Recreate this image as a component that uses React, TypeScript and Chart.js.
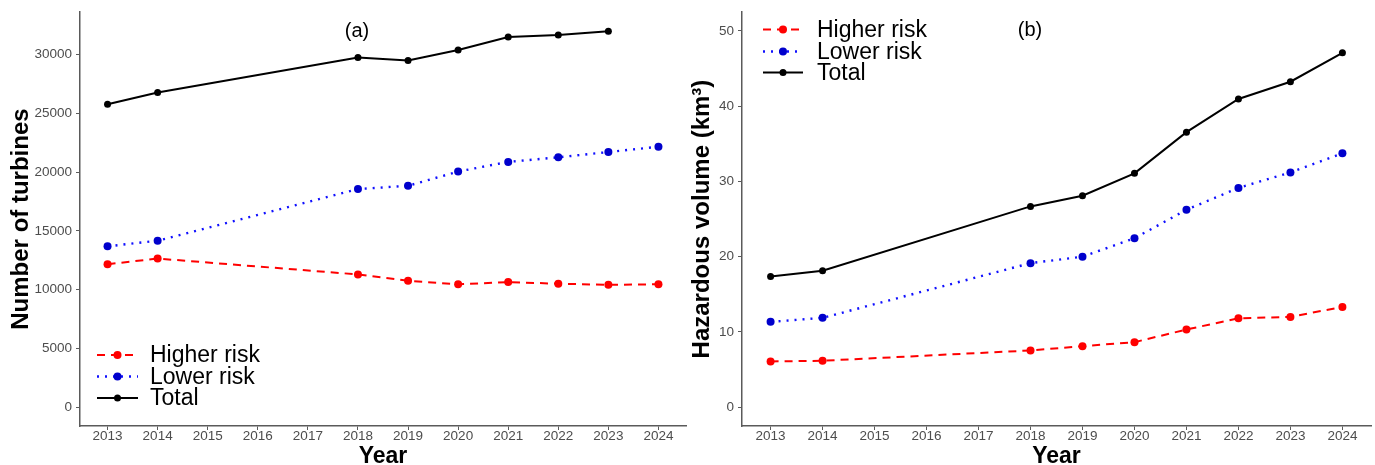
import React, { useEffect, useRef } from "react";
import { Chart, registerables } from "chart.js";

Chart.register(...registerables);

// ---------- data ----------
const years = [2013, 2014, 2018, 2019, 2020, 2021, 2022, 2023, 2024];
const xTickYears = [2013, 2014, 2015, 2016, 2017, 2018, 2019, 2020, 2021, 2022, 2023, 2024];
const seriesLabels = ["Higher risk", "Lower risk", "Total"];

const turbinesHigher = [12160, 12640, 11290, 10750, 10450, 10640, 10500, 10410, 10450];
const turbinesLower = [13680, 14160, 18550, 18830, 20040, 20860, 21250, 21700, 22150];
const turbinesTotal = [25760, 26770, 29730, 29480, 30380, 31480, 31650, 31980, null];
const turbineTicks = [0, 5000, 10000, 15000, 20000, 25000, 30000];

const volumeHigher = [6.08, 6.17, 7.54, 8.11, 8.64, 10.32, 11.81, 12.0, 13.32];
const volumeLower = [11.34, 11.87, 19.14, 20.0, 22.45, 26.23, 29.14, 31.2, 33.73];
const volumeTotal = [17.37, 18.12, 26.68, 28.1, 31.08, 36.55, 40.96, 43.25, 47.09];
const volumeTicks = [0, 10, 20, 30, 40, 50];

// ---------- styles ----------
const FAMILY = "'Liberation Sans', Arial, Helvetica, sans-serif";
const AXIS_COLOR = "#5a5a5a";
const TICK_TEXT = "#4d4d4d";

const seriesStyles = [
  { line: "#ff0000", point: "#ff0000", dash: [8, 6], width: 2, r: 4, order: 2 },
  { line: "#1010ff", point: "#0000cc", dash: [2, 6], width: 2.4, r: 4, order: 1 },
  { line: "#000000", point: "#000000", dash: [] as number[], width: 2, r: 3.5, order: 0 },
];

const overlayPlugin = {
  id: "overlay",
  afterDraw(chart: any, _args: any, opts: any) {
    const ctx = chart.ctx as CanvasRenderingContext2D;
    ctx.save();
    // panel tag
    ctx.fillStyle = "#000";
    ctx.font = `20px ${FAMILY}`;
    ctx.textAlign = "center";
    ctx.textBaseline = "middle";
    ctx.fillText(opts.tag, opts.tagX, opts.tagY);
    // legend
    opts.rows.forEach((y: number, i: number) => {
      const st = seriesStyles[i];
      ctx.strokeStyle = st.line;
      ctx.lineWidth = st.width;
      ctx.setLineDash(st.dash);
      ctx.beginPath();
      ctx.moveTo(opts.lx0, y);
      ctx.lineTo(opts.lx1, y);
      ctx.stroke();
      ctx.setLineDash([]);
      ctx.fillStyle = st.point;
      ctx.beginPath();
      ctx.arc((opts.lx0 + opts.lx1) / 2, y, st.r, 0, Math.PI * 2);
      ctx.fill();
      ctx.fillStyle = "#000";
      ctx.font = `23px ${FAMILY}`;
      ctx.textAlign = "left";
      ctx.textBaseline = "middle";
      ctx.fillText(seriesLabels[i], opts.tx, y + 1);
    });
    ctx.restore();
  },
};

function makeChart(canvas: HTMLCanvasElement, p: any) {
  const datasets = p.series.map((vals: (number | null)[], i: number) => {
    const st = seriesStyles[i];
    return {
      label: seriesLabels[i],
      data: years
        .map((x, j) => ({ x, y: vals[j] }))
        .filter((pt) => pt.y !== null && pt.y !== undefined),
      borderColor: st.line,
      backgroundColor: st.point,
      pointBackgroundColor: st.point,
      pointBorderColor: st.point,
      pointBorderWidth: 0,
      pointRadius: st.r,
      borderWidth: st.width,
      borderDash: st.dash,
      tension: 0,
      order: st.order,
    };
  });

  return new Chart(canvas, {
    type: "line",
    data: { datasets },
    plugins: [overlayPlugin],
    options: {
      animation: false,
      responsive: false,
      maintainAspectRatio: false,
      layout: { padding: { top: 10, right: p.padRight, bottom: 0, left: 0 } },
      plugins: {
        legend: { display: false },
        tooltip: { enabled: false },
        overlay: p.overlay,
      } as any,
      scales: {
        x: {
          type: "linear",
          min: 2012.45,
          max: 2024.55,
          afterBuildTicks: (s: any) => {
            s.ticks = xTickYears.map((v) => ({ value: v }));
          },
          afterFit: (s: any) => {
            s.height = 39;
          },
          ticks: {
            autoSkip: false,
            maxRotation: 0,
            padding: 0,
            color: TICK_TEXT,
            font: { family: FAMILY, size: 13.5, lineHeight: 1 },
            callback: (v: any) => String(v),
          },
          grid: {
            display: true,
            drawOnChartArea: false,
            drawTicks: true,
            tickLength: 4,
            color: AXIS_COLOR,
            lineWidth: 1,
          },
          border: { display: true, color: AXIS_COLOR, width: 1.5 },
          title: {
            display: true,
            text: "Year",
            color: "#000",
            padding: 0,
            font: { family: FAMILY, size: 23, weight: "bold", lineHeight: 0.7 },
          },
        },
        y: {
          type: "linear",
          min: p.yMin,
          max: p.yMax,
          afterBuildTicks: (s: any) => {
            s.ticks = p.yTicks.map((v: number) => ({ value: v }));
          },
          afterFit: (s: any) => {
            s.width = p.yWidth;
          },
          ticks: {
            padding: 4,
            color: TICK_TEXT,
            font: { family: FAMILY, size: 13.5 },
            callback: (v: any) => String(v),
          },
          grid: {
            display: true,
            drawOnChartArea: false,
            drawTicks: true,
            tickLength: 4,
            color: AXIS_COLOR,
            lineWidth: 1,
          },
          border: { display: true, color: AXIS_COLOR, width: 1.5 },
          title: {
            display: true,
            text: p.yTitle,
            color: "#000",
            padding: { top: p.yTitlePad, bottom: 0 },
            font: { family: FAMILY, size: 24, weight: "bold", lineHeight: 1 },
          },
        },
      },
    } as any,
  });
}

export default function App() {
  const leftRef = useRef<HTMLCanvasElement>(null);
  const rightRef = useRef<HTMLCanvasElement>(null);

  useEffect(() => {
    const a = makeChart(leftRef.current!, {
      series: [turbinesHigher, turbinesLower, turbinesTotal],
      yMin: -1600,
      yMax: 33600,
      yTicks: turbineTicks,
      yWidth: 80,
      padRight: 4,
      yTitle: "Number of turbines",
      yTitlePad: 9,
      overlay: {
        tag: "(a)",
        tagX: 357,
        tagY: 31,
        rows: [355, 376.5, 398],
        lx0: 97,
        lx1: 138,
        tx: 150,
      },
    });
    const b = makeChart(rightRef.current!, {
      series: [volumeHigher, volumeLower, volumeTotal],
      yMin: -2.5,
      yMax: 52.5,
      yTicks: volumeTicks,
      yWidth: 52,
      padRight: 3,
      yTitle: "Hazardous volume (km³)",
      yTitlePad: 0,
      overlay: {
        tag: "(b)",
        tagX: 340,
        tagY: 30,
        rows: [29.5, 51.5, 72.5],
        lx0: 73,
        lx1: 113,
        tx: 127,
      },
    });
    return () => {
      a.destroy();
      b.destroy();
    };
  }, []);

  return (
    <div style={{ position: "absolute", left: 0, top: 0, width: 1375, height: 465, background: "#fff" }}>
      <canvas ref={leftRef} width={690} height={465} style={{ position: "absolute", left: 0, top: 0 }} />
      <canvas ref={rightRef} width={685} height={465} style={{ position: "absolute", left: 690, top: 0 }} />
    </div>
  );
}
